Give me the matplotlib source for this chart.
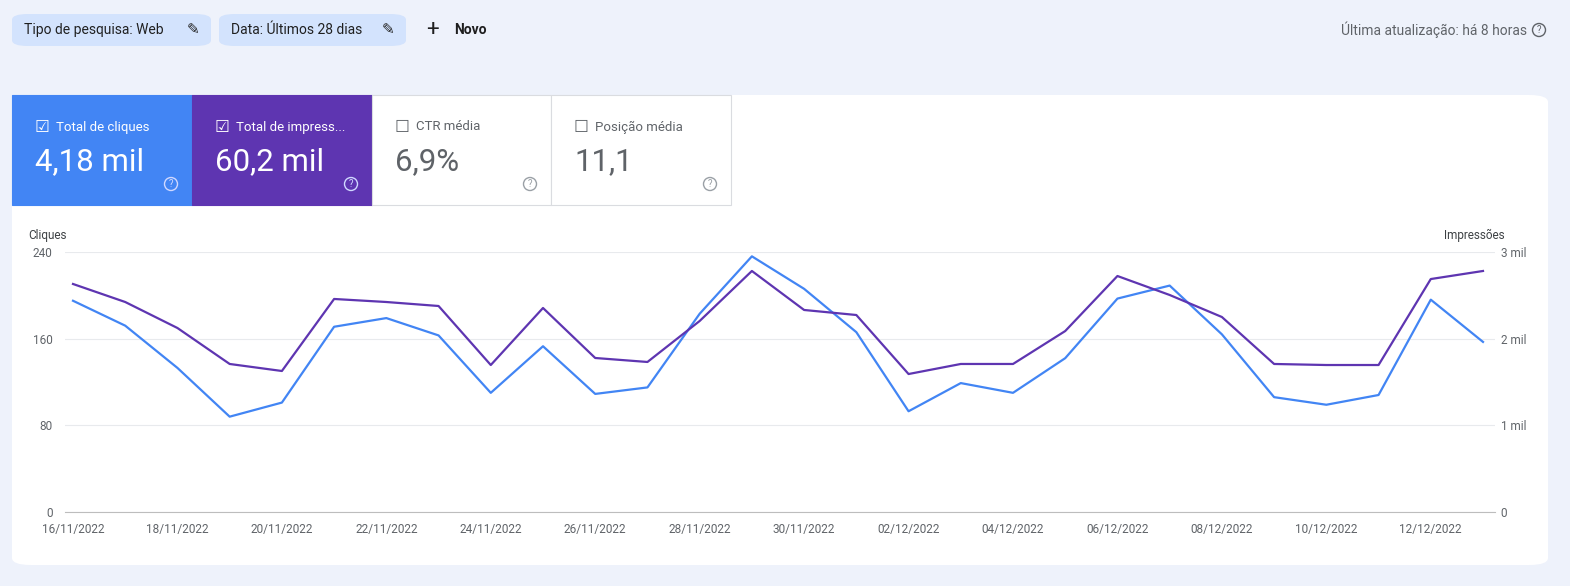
import matplotlib
matplotlib.use("Agg")
import matplotlib.pyplot as plt
from matplotlib.patches import FancyBboxPatch, Rectangle, Ellipse
import numpy as np

dates = ["16/11/2022","17/11/2022","18/11/2022","19/11/2022","20/11/2022","21/11/2022","22/11/2022",
         "23/11/2022","24/11/2022","25/11/2022","26/11/2022","27/11/2022","28/11/2022","29/11/2022",
         "30/11/2022","01/12/2022","02/12/2022","03/12/2022","04/12/2022","05/12/2022","06/12/2022",
         "07/12/2022","08/12/2022","09/12/2022","10/12/2022","11/12/2022","12/12/2022","13/12/2022"]
clicks = [195,172,133,88,101,171,179,163,110,153,109,115,183,236,206,166,93,119,110,142,197,209,164,106,99,108,196,157]
impressions = [2631,2423,2123,1708,1627,2458,2423,2377,1696,2354,1777,1731,2204,2781,2331,2273,1592,1708,1708,2088,2723,2504,2250,1708,1696,1696,2688,2781]
left_ticks = [0,80,160,240]
right_ticks = [0,1000,2000,3000]
right_labels = ["0","1 mil","2 mil","3 mil"]

W,H = 1570,586
plt.rcParams["font.family"] = "Roboto"
fig = plt.figure(figsize=(15.7,5.86), dpi=100)
fig.patch.set_facecolor("#eef2fb")

def fx(x): return x/W
def fy(y): return 1-y/H

def qmark(xc, yc, col):
    fig.patches.append(Ellipse((fx(xc),fy(yc)), 13/W, 13/H, transform=fig.transFigure,
        facecolor="none", edgecolor=col, lw=1, zorder=4))
    fig.text(fx(xc), fy(yc), "?", fontsize=7, ha="center", va="center", color=col, zorder=4)

# card
fig.patches.append(FancyBboxPatch((fx(12),fy(565)), fx(1536), (565-95)/H,
    boxstyle="round,pad=0,rounding_size=0.012", transform=fig.transFigure,
    facecolor="white", edgecolor="none", zorder=-5))

# chips
for x0,x1,label in [(12,211,"Tipo de pesquisa: Web"),(219,406,"Data: Últimos 28 dias")]:
    fig.patches.append(FancyBboxPatch((fx(x0),fy(46)), fx(x1-x0), 32/H,
        boxstyle="round,pad=0,rounding_size=0.01", transform=fig.transFigure,
        facecolor="#d3e3fd", edgecolor="none"))
    fig.text(fx(x0+12), fy(30), label, fontsize=10, va="center", color="#1f1f1f")
    fig.text(fx(x1-24), fy(30), "✎", fontsize=11, va="center", color="#1f1f1f", family="DejaVu Sans")
fig.text(fx(426), fy(30), "+", fontsize=16, va="center", color="#1f1f1f")
fig.text(fx(454), fy(30), "Novo", fontsize=10, va="center", color="#1f1f1f", weight="bold")
fig.text(fx(1527), fy(30), "Última atualização: há 8 horas", fontsize=10, va="center", ha="right", color="#5f6368")
qmark(1539, 30, "#5f6368")

# tiles
tiles = [(12,192,"#4285f4","Total de cliques","4,18 mil",True),
         (192,372,"#5e35b1","Total de impress...","60,2 mil",True),
         (372,551,"white","CTR média","6,9%",False),
         (551,731,"white","Posição média","11,1",False)]
for x0,x1,col,lab,val,on in tiles:
    fig.patches.append(Rectangle((fx(x0),fy(205)), fx(x1-x0), 110/H, transform=fig.transFigure,
        facecolor=col, edgecolor="#dadce0" if not on else col, lw=0.8, zorder=1))
    tc = "white" if on else "#5f6368"
    fig.text(fx(x0+23), fy(127), ("☑" if on else "☐"), fontsize=12, va="center", color=tc, family="DejaVu Sans", zorder=3)
    fig.text(fx(x0+44), fy(127), lab, fontsize=9.5, va="center", color=tc, zorder=3)
    fig.text(fx(x0+23), fy(162), val, fontsize=22.5, va="center", color=tc, zorder=3)
    qmark(x1-21, 184, "#d0d8ff" if on else "#9aa0a6")

# chart
AX_L = 65
ax = fig.add_axes([fx(AX_L), fy(512), fx(1495-AX_L), (512-252)/H])
ax.set_zorder(5)
ax.set_facecolor("none")
x = np.arange(len(dates))
ax.plot(x, clicks, color="#4285f4", lw=1.6, zorder=3)
ax.set_xlim(-(73-AX_L)/52.23, 27 + (1495-1483)/52.23)
ax.set_ylim(0, 240)
ax.set_yticks(left_ticks)
ax.set_xticks(x[::2])
ax.set_xticklabels(dates[::2])
ax2 = ax.twinx()
ax2.set_zorder(6)
ax2.set_facecolor("none")
ax2.plot(x, impressions, color="#5e35b1", lw=1.6, zorder=3)
ax2.set_ylim(0, 3000)
ax2.set_yticks(right_ticks)
ax2.set_yticklabels(right_labels)
for a in (ax, ax2):
    for s in a.spines.values(): s.set_visible(False)
    a.tick_params(length=0, labelsize=8.5, colors="#5f6368")
ax.spines["bottom"].set_visible(True)
ax.spines["bottom"].set_color("#bdbdbd")
ax.grid(axis="y", color="#e8eaed", lw=0.8)
ax.tick_params(axis="x", pad=8)
ax.tick_params(axis="y", pad=9)
ax2.tick_params(axis="y", pad=4)
fig.text(fx(28), fy(235), "Cliques", fontsize=8.5, va="center", color="#3c4043")
fig.text(fx(1505), fy(235), "Impressões", fontsize=8.5, va="center", ha="right", color="#3c4043")
fig.savefig("out.png", dpi=100, facecolor=fig.get_facecolor())
